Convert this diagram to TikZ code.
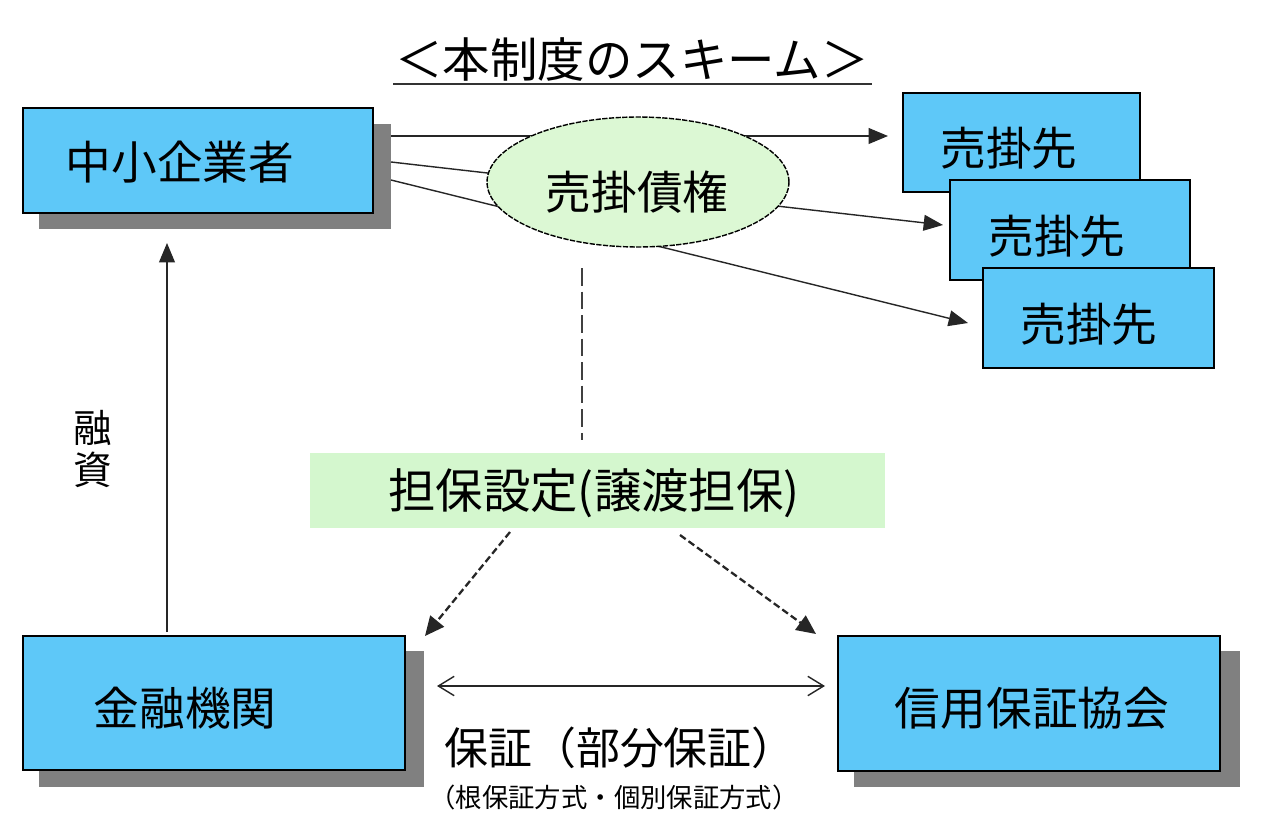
\documentclass[tikz,border=0pt]{standalone}
\usepackage{fontspec}
\setmainfont{Noto Sans CJK JP}
\usetikzlibrary{arrows.meta,shapes.geometric}
\definecolor{boxblue}{RGB}{94,200,248}
\definecolor{shadowgray}{RGB}{128,128,128}
\definecolor{ellgreen}{RGB}{220,248,212}
\definecolor{boxgreen}{RGB}{212,247,206}
\begin{document}
\begin{tikzpicture}[x=0.02cm,y=-0.02cm,
  entity/.style={draw=black, line width=1pt, fill=boxblue, rectangle, inner sep=0pt},
  shadowfill/.style={fill=shadowgray, draw=none},
  lbl/.style={font=\fontsize{26}{30}\selectfont, inner sep=0pt},
  conn/.style={line width=0.8pt, draw=black!85},
  tip/.style={-{Triangle[length=11pt,width=9pt]}},
  dashedarrow/.style={line width=1.3pt, draw=black!85, dash pattern=on 4pt off 2pt, -{Triangle[length=11pt,width=10pt]}},
]
\useasboundingbox (0,0) rectangle (1262,828);

% title
\node[lbl, font=\fontsize{27}{30}\selectfont] (title) at (632,60) {＜本制度のスキーム＞};
\draw[line width=1pt, black!80] (393,84) -- (872,84);

% shadows
\fill[shadowfill] (39,124) rectangle (391,229);
\fill[shadowfill] (39,651) rectangle (424,787);
\fill[shadowfill] (854,651) rectangle (1240,787);

% SME box
\node[entity, minimum width=7cm, minimum height=2.1cm] (sme) at (198,160.5) {};
\node[lbl] (smet) at (180,162) {中小企業者};

% connector coordinates
\coordinate (s1) at (391,136);
\coordinate (s2) at (391,162);
\coordinate (s3) at (391,180);
\coordinate (t1) at (888,136);
\coordinate (t2) at (943,225);
\coordinate (t3) at (968,323);

\draw[conn, tip] (s1) -- (t1);
\draw[conn, tip] (s2) -- (t2);
\draw[conn, tip] (s3) -- (t3);

% ellipse
\node[ellipse, draw=black, line width=0.8pt, dash pattern=on 3pt off 0.8pt, fill=ellgreen,
      minimum width=6.04cm, minimum height=2.6cm, inner sep=0pt] (claim) at (638,182) {};
\node[lbl] (claimt) at (637,192) {売掛債権};

% customers
\node[entity, minimum width=4.74cm, minimum height=1.98cm] (c1) at (1021.5,142.5) {};
\node[lbl] at (1009,148) {売掛先};
\node[entity, minimum width=4.8cm, minimum height=2.0cm] (c2) at (1070,230) {};
\node[lbl] at (1057,236) {売掛先};
\node[entity, minimum width=4.62cm, minimum height=2.0cm] (c3) at (1098.5,318) {};
\node[lbl] at (1089,324) {売掛先};

% vertical dashed
\coordinate (d1) at (582,268);
\coordinate (d2) at (582,440);
\draw[line width=1.3pt, black!75, dash pattern=on 10pt off 3.4pt] (d1) -- (d2);

% collateral box
\node[fill=boxgreen, minimum width=11.5cm, minimum height=1.5cm, inner sep=0pt] (coll) at (597.5,490.5) {};
\node[lbl, font=\fontsize{27}{30}\selectfont] at (594,493) {担保設定(譲渡担保)};

% bank and guarantee
\node[entity, minimum width=7.64cm, minimum height=2.68cm] (bank) at (214,703) {};
\node[lbl] at (185,708) {金融機関};
\node[entity, minimum width=7.64cm, minimum height=2.7cm] (guar) at (1029,703.5) {};
\node[lbl] at (1032,708) {信用保証協会};

% dashed arrows
\coordinate (a1) at (510,532);
\coordinate (a2) at (425,636);
\coordinate (b1) at (680,535);
\coordinate (b2) at (816,634);
\draw[dashedarrow] (a1) -- (a2);
\draw[dashedarrow] (b1) -- (b2);

% finance arrow
\coordinate (f1) at (167,632);
\coordinate (f2) at (167,243);
\draw[conn, tip] (f1) -- (f2);
\node[lbl, font=\fontsize{22}{24}\selectfont] at (93,428) {融};
\node[lbl, font=\fontsize{22}{24}\selectfont] at (93,470) {資};

% guarantee arrow
\coordinate (g1) at (437,686);
\coordinate (g2) at (825,686);
\draw[conn, {Straight Barb[length=9pt,width=11pt]}-{Straight Barb[length=9pt,width=11pt]}] (g1) -- (g2);
\node[lbl, font=\fontsize{25}{28}\selectfont] at (620,748) {保証（部分保証）};
\node[lbl, font=\fontsize{15}{17}\selectfont] at (614,797) {（根保証方式・個別保証方式）};
\end{tikzpicture}
\end{document}
